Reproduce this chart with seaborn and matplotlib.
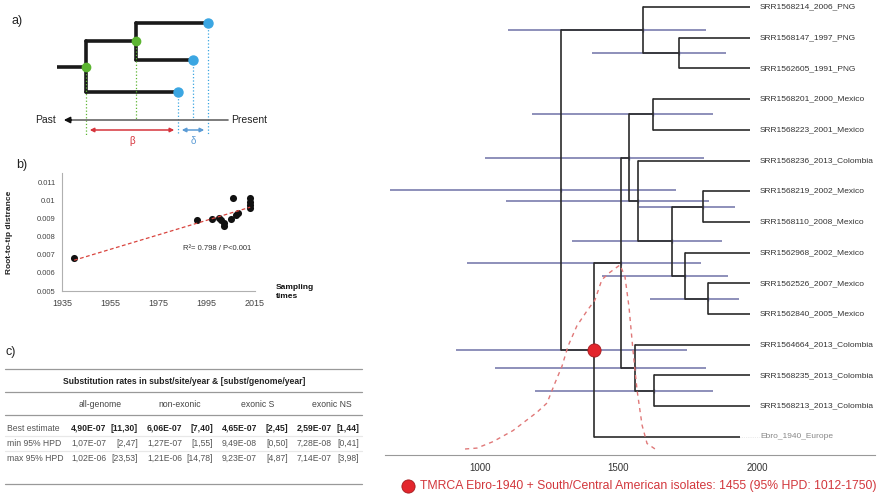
import matplotlib
matplotlib.use('Agg')
import numpy as np
import seaborn as sns
from matplotlib import pyplot as plt

# ---- panel b data: root-to-tip regression ----
b_years = [1940, 1991, 1997, 2000, 2001, 2002, 2002, 2005, 2006, 2007, 2008, 2013, 2013, 2013, 2013]
b_dist = [0.00683, 0.00893, 0.00897, 0.00903, 0.00890, 0.00872, 0.00858, 0.00895,
          0.01015, 0.00920, 0.00928, 0.01012, 0.00992, 0.00972, 0.00958]
b_yticks = [0.005, 0.006, 0.007, 0.008, 0.009, 0.01, 0.011]
b_xticks = [1935, 1955, 1975, 1995, 2015]

# ---- panel c data: substitution rates table ----
c_title = "Substitution rates in subst/site/year & [subst/genome/year]"
c_columns = ["all-genome", "non-exonic", "exonic S", "exonic NS"]
c_rows = ["Best estimate", "min 95% HPD", "max 95% HPD"]
c_site = [["4,90E-07", "6,06E-07", "4,65E-07", "2,59E-07"],
          ["1,07E-07", "1,27E-07", "9,49E-08", "7,28E-08"],
          ["1,02E-06", "1,21E-06", "9,23E-07", "7,14E-07"]]
c_genome = [["[11,30]", "[7,40]", "[2,45]", "[1,44]"],
            ["[2,47]", "[1,55]", "[0,50]", "[0,41]"],
            ["[23,53]", "[14,78]", "[4,87]", "[3,98]"]]

# ---- panel d data: dated tree ----
leaf_names = ["SRR1568214_2006_PNG", "SRR1568147_1997_PNG", "SRR1562605_1991_PNG",
              "SRR1568201_2000_Mexico", "SRR1568223_2001_Mexico", "SRR1568236_2013_Colombia",
              "SRR1568219_2002_Mexico", "SRR1568110_2008_Mexico", "SRR1562968_2002_Mexico",
              "SRR1562526_2007_Mexico", "SRR1562840_2005_Mexico", "SRR1564664_2013_Colombia",
              "SRR1568235_2013_Colombia", "SRR1568213_2013_Colombia", "Ebro_1940_Europe"]
tip_end = [1975] * 14 + [1939]
node_names = ['R', 'A', 'B', 'E', 'F', 'G', 'I', 'J', 'K', 'L', 'M', 'N', 'H', 'O']
node_years = [1292, 1588, 1718, 1412, 1509, 1538, 1625, 1570, 1693, 1805, 1740, 1823, 1560, 1628]
node_children = [('A', 'E'), (0, 'B'), (1, 2), ('F', 14), ('G', 'H'), ('I', 'J'), (3, 4),
                 (5, 'K'), ('L', 'M'), (6, 7), (8, 'N'), (9, 10), (11, 'O'), (12, 13)]
hpd_low = [675, 1101, 1404, 913, 953, 1018, 1188, 1094, 1332, 1574, 1440, 1614, 1054, 1199]
hpd_high = [1708, 1816, 1888, 1747, 1798, 1809, 1841, 1827, 1874, 1921, 1895, 1935, 1816, 1841]
tmrca_node = 'E'
dens_years = [946, 989, 1047, 1119, 1206, 1242, 1271, 1296, 1318, 1350, 1386, 1415, 1440,
              1469, 1505, 1523, 1538, 1552, 1567, 1585, 1603, 1632]
dens_vals = [0.0, 0.005, 0.04, 0.10, 0.20, 0.25, 0.36, 0.45, 0.56, 0.67, 0.75, 0.81, 0.92,
             0.96, 1.0, 0.94, 0.77, 0.54, 0.32, 0.13, 0.03, 0.0]
caption = "TMRCA Ebro-1940 + South/Central American isolates: 1455 (95% HPD: 1012-1750)"

sns.set_style('white')
plt.rcParams['font.family'] = ['Liberation Sans', 'DejaVu Sans']

W, H = 880, 494
fig = plt.figure(figsize=(8.8, 4.94), dpi=100)


def px_axes(x0, y0, x1, y1):
    return fig.add_axes([x0 / W, 1 - y1 / H, (x1 - x0) / W, (y1 - y0) / H])


ov = fig.add_axes([0, 0, 1, 1])
ov.set_xlim(0, W)
ov.set_ylim(H, 0)
ov.axis('off')

# ================= a) schematic =================
a_root_x = 57
a_node_x = [86, 136]
a_tip_x = [178, 193, 208]
a_tip_y = [92, 60, 23]
a_axis_y = 120
blk, grn, blu = '#1a1a1a', '#5cb531', '#3ba6e2'
n2_y = (a_tip_y[1] + a_tip_y[2]) / 2 - 0.5
n1_y = (n2_y + a_tip_y[0]) / 2 + 0.5
lw = 2.6
ov.plot([a_root_x, a_node_x[0]], [n1_y, n1_y], color=blk, lw=lw, solid_capstyle='butt')
ov.plot([a_node_x[0]] * 2, [n2_y, a_tip_y[0]], color=blk, lw=lw)
ov.plot([a_node_x[0], a_node_x[1]], [n2_y, n2_y], color=blk, lw=lw)
ov.plot([a_node_x[1]] * 2, [a_tip_y[2], a_tip_y[1]], color=blk, lw=lw)
ov.plot([a_node_x[0], a_tip_x[0]], [a_tip_y[0]] * 2, color=blk, lw=lw)
ov.plot([a_node_x[1], a_tip_x[1]], [a_tip_y[1]] * 2, color=blk, lw=lw)
ov.plot([a_node_x[1], a_tip_x[2]], [a_tip_y[2]] * 2, color=blk, lw=lw)
ov.plot([a_node_x[0]] * 2, [n1_y, 135], color=grn, lw=0.9, ls=':')
ov.plot([a_node_x[1]] * 2, [n2_y, 120], color=grn, lw=0.9, ls=':')
for tx, ty, yb in zip(a_tip_x, a_tip_y, [135, 120, 135]):
    ov.plot([tx, tx], [ty, yb], color=blu, lw=0.9, ls=':')
ov.plot(a_node_x, [n1_y, n2_y], 'o', ms=6, color=grn, zorder=5)
ov.plot(a_tip_x, a_tip_y, 'o', ms=6.5, color=blu, zorder=5)
ov.plot([70, 228], [a_axis_y] * 2, color='#666', lw=1.2)
ov.annotate('', xy=(61, a_axis_y), xytext=(74, a_axis_y),
            arrowprops=dict(arrowstyle='-|>', color='#111', lw=1.2, mutation_scale=9))
ov.text(35, a_axis_y, 'Past', fontsize=7.5, va='center', ha='left', color='#222')
ov.text(231, a_axis_y, 'Present', fontsize=7.5, va='center', ha='left', color='#222')
ov.annotate('', xy=(a_node_x[0] + 1, 130), xytext=(a_tip_x[0] - 1, 130),
            arrowprops=dict(arrowstyle='<|-|>', color='#d6343c', lw=1.1, mutation_scale=6))
ov.annotate('', xy=(a_tip_x[0] + 1, 130), xytext=(a_tip_x[2] - 1, 130),
            arrowprops=dict(arrowstyle='<|-|>', color='#5b9bd5', lw=1.1, mutation_scale=6))
ov.text((a_node_x[0] + a_tip_x[0]) / 2, 141, 'β', color='#d6343c', fontsize=7, ha='center', va='center')
ov.text((a_tip_x[0] + a_tip_x[2]) / 2, 141, 'δ', color='#5b9bd5', fontsize=7, ha='center', va='center')
ov.text(17, 21, 'a)', fontsize=9, ha='center', va='center', color='#222')

# ================= b) root-to-tip =================
ax_b = px_axes(62, 173, 255, 291)
sns.regplot(x=b_years, y=b_dist, ax=ax_b, ci=None, truncate=True,
            scatter_kws=dict(s=26, color='#111', linewidths=0, alpha=1, zorder=3),
            line_kws=dict(color='#d9453f', lw=0.9, ls=(0, (3, 2)), zorder=4))
ax_b.set_xlim(1935, 2015)
ax_b.set_ylim(0.005, 0.0115)
ax_b.set_xticks(b_xticks)
ax_b.set_xticklabels([str(v) for v in b_xticks])
ax_b.set_yticks(b_yticks)
ax_b.set_yticklabels([f'{v:g}' for v in b_yticks])
for s in ['top', 'right']:
    ax_b.spines[s].set_visible(False)
for s in ['left', 'bottom']:
    ax_b.spines[s].set_color('#b0b0b0')
    ax_b.spines[s].set_linewidth(0.8)
ax_b.tick_params(axis='both', direction='out', length=2.5, width=0.6, color='#b0b0b0',
                 labelsize=5.5, labelcolor='#444', pad=2)
ax_b.tick_params(axis='x', labelsize=6.5, pad=3)
ax_b.set_ylabel('Root-to-tip distrance', fontsize=6, fontweight='bold', color='#222')
ax_b.yaxis.set_label_coords(-0.255, 0.5)
ax_b.text(2013.5, 0.00733, 'R²= 0.798 / P<0.001', fontsize=5.5, ha='right', va='center', color='#333')
ov.text(276, 284, 'Sampling\ntimes', fontsize=6, fontweight='bold', ha='left', va='top',
        color='#111', linespacing=1.3)
ov.text(22, 165, 'b)', fontsize=9, ha='center', va='center', color='#222')

# ================= c) table =================
ov.text(11, 352, 'c)', fontsize=9, ha='center', va='center', color='#222')
for yl, col in [(369, '#999'), (392, '#999'), (415, '#999'), (436, '#e8e8e8'),
                (451, '#e8e8e8'), (484, '#999')]:
    ov.plot([5, 362], [yl, yl], color=col, lw=0.9)
ov.text(184, 381, c_title, fontsize=6.2, fontweight='bold', ha='center', va='center', color='#222')
col_cx = [100, 180, 258, 332]
val_x = [71, 147, 222, 297]
brk_x = [138, 213, 288, 359]
row_y = [428, 443, 458]
fs = 6.2
for cx, name in zip(col_cx, c_columns):
    ov.text(cx, 404, name, fontsize=fs, ha='center', va='center', color='#444')
for r, (ry, rname) in enumerate(zip(row_y, c_rows)):
    fw = 'bold' if r == 0 else 'normal'
    tc = '#222' if r == 0 else '#555'
    ov.text(7, ry, rname, fontsize=fs, ha='left', va='center', color='#555')
    for k in range(4):
        ov.text(val_x[k], ry, c_site[r][k], fontsize=fs, fontweight=fw, ha='left', va='center', color=tc)
        ov.text(brk_x[k], ry, c_genome[r][k], fontsize=fs, fontweight=fw, ha='right', va='center', color=tc)

# ================= d) dated tree =================
ax_d = px_axes(385, 0, 875, 455)
ax_d.set_xlim(657, 2426)
ax_d.set_ylim(14.59, -0.228)

node_y = {}


def y_of(c):
    if isinstance(c, int):
        return c
    if c not in node_y:
        i = node_names.index(c)
        node_y[c] = np.mean([y_of(ch) for ch in node_children[i]])
    return node_y[c]


def x_of(c):
    if isinstance(c, int):
        return tip_end[c]
    return node_years[node_names.index(c)]


for nm in node_names:
    y_of(nm)

tree_col, hpd_col = '#2b2b2b', '#6f72a8'
ys = [node_y[nm] for nm in node_names]
ax_d.hlines(ys, hpd_low, hpd_high, color=hpd_col, lw=1.3, alpha=0.85, zorder=1)
ax_d.plot(node_years, ys, '|', ms=3, color=hpd_col, zorder=1)
for nm, yr, ch in zip(node_names, node_years, node_children):
    cy = [y_of(c) for c in ch]
    ax_d.plot([yr, yr], [min(cy), max(cy)], color=tree_col, lw=1.2, zorder=2)
    for c in ch:
        ax_d.plot([yr, x_of(c)], [y_of(c), y_of(c)], color=tree_col, lw=1.2, zorder=2,
                  solid_capstyle='butt')
label_x = 2011
for i, name in enumerate(leaf_names):
    last = i == len(leaf_names) - 1
    ax_d.text(label_x, i, name, fontsize=6, ha='left', va='center',
              color='#888' if last else '#333')
    if last:
        ax_d.plot([tip_end[i], label_x - 5], [i, i], color='#d8d8d8', lw=0.5, ls=':')

ey = node_y[tmrca_node]
ex = node_years[node_names.index(tmrca_node)]
ax_d.plot(ex, ey, 'o', ms=9.5, mfc='#e3262d', mec='#a31a1d', mew=0.6, zorder=6)

ax_den = ax_d.twinx()
sns.lineplot(x=dens_years, y=dens_vals, ax=ax_den, color='#e07878', lw=1.0,
             linestyle=(0, (3, 3)), zorder=3)
ax_den.set_ylim(-0.0326, 2.440)
ax_den.axis('off')

ax_d.set_xticks([1000, 1500, 2000])
ax_d.set_xticks([750, 1250, 1750, 2250], minor=True)
ax_d.set_yticks([])
for s in ['top', 'right', 'left']:
    ax_d.spines[s].set_visible(False)
ax_d.spines['bottom'].set_color('#999')
ax_d.spines['bottom'].set_linewidth(0.8)
ax_d.tick_params(axis='x', which='both', direction='out', length=3, width=0.7, color='#999',
                 labelsize=7, labelcolor='#333', pad=3)
ov.text(401, 17, 'd)', fontsize=10, ha='center', va='center', color='#222')

ov.plot(408, 486, 'o', ms=9.5, mfc='#e3262d', mec='#a31a1d', mew=0.6)
ov.text(420, 486, caption, fontsize=8.8, color='#d2373c', ha='left', va='center')

fig.savefig('out.png', dpi=100)
